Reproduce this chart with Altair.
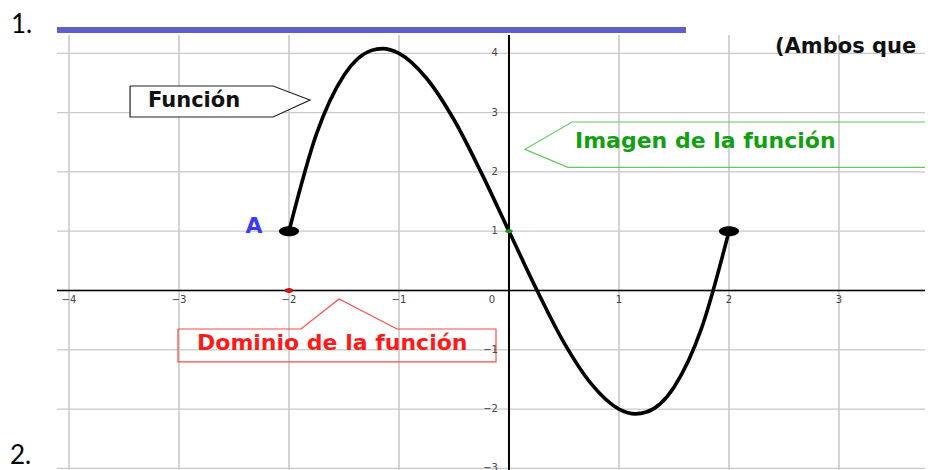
import altair as alt
import pandas as pd

# ---- data ----
curve_x = [-2.0, -1.75, -1.5, -1.25, -1.15, -1.0, -0.75, -0.5, -0.25, 0.0,
           0.25, 0.5, 0.75, 1.0, 1.15, 1.25, 1.5, 1.75, 2.0]
curve_y = [1.0, 2.64, 3.63, 4.05, 4.08, 4.0, 3.58, 2.88, 1.98, 1.0,
           0.02, -0.88, -1.58, -2.0, -2.08, -2.05, -1.63, -0.64, 1.0]

grid_x = [-4, -3, -2, -1, 0, 1, 2, 3]
grid_y = [-3, -2, -1, 0, 1, 2, 3, 4]
xtick_vals = [-4, -3, -2, -1, 1, 2, 3]
xtick_text = ["−4", "−3", "−2", "−1", "1", "2", "3"]
ytick_vals = [4, 3, 2, 1, -1, -2, -3]
ytick_text = ["4", "3", "2", "1", "−1", "−2", "−3"]

end_x = [-2, 2]
end_y = [1, 1]

# callout outlines (data units)
func_x = [-3.445, -2.145, -1.809, -2.145, -3.445, -3.445]
func_y = [3.449, 3.449, 3.212, 2.926, 2.926, 3.449]
img_x = [4.2, 0.573, 0.145, 0.536, 4.2]
img_y = [2.842, 2.842, 2.381, 2.077, 2.077]
dom_x = [-3.009, -1.891, -1.545, -1.018, -0.118, -0.118, -3.009, -3.009]
dom_y = [-0.649, -0.649, -0.143, -0.649, -0.649, -1.203, -1.203, -0.649]

XD = [-4.109, 3.782]
YD = [-3.027, 4.309]
W, H = 868, 435

xs = alt.Scale(domain=XD, nice=False, zero=False)
ys = alt.Scale(domain=YD, nice=False, zero=False)

def X(f="x", **kw):
    return alt.X(f"{f}:Q", scale=xs, axis=None, **kw)

def Y(f="y", **kw):
    return alt.Y(f"{f}:Q", scale=ys, axis=None, **kw)

# grid
gx = alt.Chart(pd.DataFrame({"x": grid_x})).mark_rule(color="#c9c9c9", strokeWidth=1.6).encode(
    x=X(), y=alt.value(0), y2=alt.value(H))
gy = alt.Chart(pd.DataFrame({"y": grid_y})).mark_rule(color="#c9c9c9", strokeWidth=1.3).encode(
    y=Y(), x=alt.value(0), x2=alt.value(W))

# axes
ax_x = alt.Chart(pd.DataFrame({"y": [0]})).mark_rule(color="black", strokeWidth=1.4).encode(
    y=Y(), x=alt.value(0), x2=alt.value(W))
ax_y = alt.Chart(pd.DataFrame({"x": [0]})).mark_rule(color="black", strokeWidth=2).encode(
    x=X(), y=alt.value(0), y2=alt.value(H))

xt = alt.Chart(pd.DataFrame({"x": xtick_vals, "t": xtick_text})).mark_text(
    fontSize=10, font="DejaVu Sans", color="#444", baseline="middle", align="center", dy=9).encode(
    x=X(), y=alt.Y("z:Q", scale=ys, axis=None), text="t:N").transform_calculate(z="0")
zero_lbl = alt.Chart(pd.DataFrame({"x": [-0.155], "y": [0], "t": ["0"]})).mark_text(
    fontSize=10, font="DejaVu Sans", color="#444", baseline="middle", align="center", dy=9).encode(
    x=X(), y=Y(), text="t:N")
yt = alt.Chart(pd.DataFrame({"y": ytick_vals, "t": ytick_text})).mark_text(
    fontSize=10, font="DejaVu Sans", color="#444", baseline="middle", align="right", dx=-11).encode(
    x=alt.X("z:Q", scale=xs, axis=None), y=Y(), text="t:N").transform_calculate(z="0")

# callouts
func_fill = alt.Chart(pd.DataFrame({
    "x": [-3.445, -2.145, -1.809], "y": [3.449, 3.449, 3.212], "y2": [2.926, 2.926, 3.212]})
).mark_area(color="white", opacity=1).encode(x=X(), y=Y(), y2="y2:Q")
func_line = alt.Chart(pd.DataFrame({"x": func_x, "y": func_y, "o": list(range(len(func_x)))})
).mark_line(color="#222", strokeWidth=1.2).encode(x=X(), y=Y(), order="o:Q")
img_line = alt.Chart(pd.DataFrame({"x": img_x, "y": img_y, "o": list(range(len(img_x)))})
).mark_line(color="#62c862", strokeWidth=1.2, clip=True).encode(x=X(), y=Y(), order="o:Q")
dom_line = alt.Chart(pd.DataFrame({"x": dom_x, "y": dom_y, "o": list(range(len(dom_x)))})
).mark_line(color="#ff4a4a", strokeWidth=1.2).encode(x=X(), y=Y(), order="o:Q")

# curve
curve = alt.Chart(pd.DataFrame({"x": curve_x, "y": curve_y})).mark_line(
    color="black", strokeWidth=3.6, interpolate="monotone", strokeCap="round").encode(x=X(), y=Y())

ellipse = "M-1,0A1,0.5,0,1,0,1,0A1,0.5,0,1,0,-1,0Z"
ends = alt.Chart(pd.DataFrame({"x": end_x, "y": end_y})).mark_point(
    shape=ellipse, size=400, filled=True, color="black", opacity=1).encode(x=X(), y=Y())
gdot = alt.Chart(pd.DataFrame({"x": [0], "y": [1]})).mark_point(
    shape=ellipse, size=60, filled=True, color="#1a9a1a", opacity=1).encode(x=X(), y=Y())
rdot = alt.Chart(pd.DataFrame({"x": [-2], "y": [0]})).mark_point(
    shape=ellipse, size=60, filled=True, fill="#ee1111", stroke="#7a0000", strokeWidth=0.8,
    opacity=1).encode(x=X(), y=Y())

# labels
def label(x, y, t, **kw):
    return alt.Chart(pd.DataFrame({"x": [x], "y": [y], "t": [t]})).mark_text(
        baseline="alphabetic", **kw).encode(x=X(), y=Y(), text="t:N")

t_func = label(-3.282, 3.094, "Función", align="left", font="DejaVu Sans", fontWeight="bold",
               fontSize=21, color="#111")
t_img = label(0.6, 2.403, "Imagen de la función", align="left", font="DejaVu Sans",
              fontWeight="bold", fontSize=22, color="#12a012")
t_dom = label(-2.836, -1.003, "Dominio de la función", align="left", font="DejaVu Sans",
              fontWeight="bold", fontSize=22, color="#ff1a1a")
t_A = label(-2.318, 0.97, "A", align="center", font="DejaVu Sans", fontWeight="bold",
            fontSize=22, color="#3a3aff")
t_amb = label(2.418, 4.005, "(Ambos que", align="left", font="DejaVu Sans", fontWeight="bold",
              fontSize=21, color="#111", clip=True)
t_1 = label(-4.527, 4.35, "1.", align="left", font="Lato", fontSize=26, color="black")
t_2 = label(-4.536, -2.93, "2.", align="left", font="Lato", fontSize=26, color="black")

bar = alt.Chart(pd.DataFrame({"x": [-4.109], "x2": [1.609], "y": [4.444], "y2": [4.342]})).mark_rect(
    color="#5f5fcc").encode(x=X(), x2="x2:Q", y=Y(), y2="y2:Q")

chart = alt.layer(
    gx, gy, func_fill, img_line, dom_line, func_line, ax_x, ax_y, xt, zero_lbl, yt,
    curve, ends, gdot, rdot, t_func, t_img, t_dom, t_A, t_amb, t_1, t_2, bar
).properties(
    width=W, height=H,
    autosize=alt.AutoSizeParams(type="none"),
    padding={"left": 49, "top": 27, "right": 0, "bottom": 0},
    background="white",
).configure_view(stroke=None)

chart.save("out.html", embed_options={"renderer": "svg", "actions": False})
